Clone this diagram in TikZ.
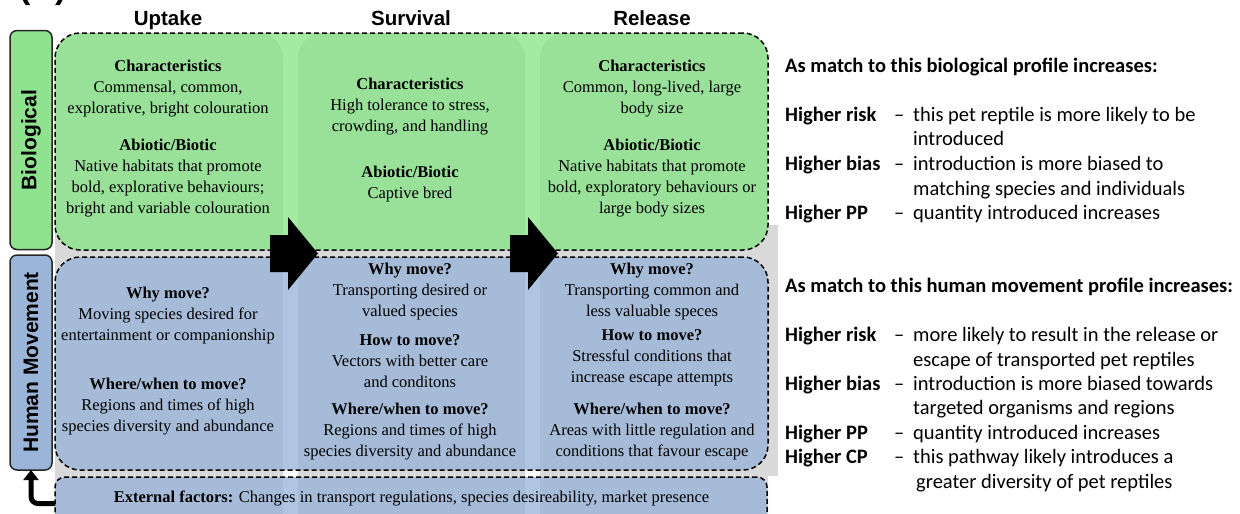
\documentclass[tikz,border=0pt]{standalone}
\usepackage{fontspec}
\setmainfont{Liberation Serif}
\setsansfont{Liberation Sans}
\newfontfamily\calib{Carlito}
\usetikzlibrary{arrows.meta}

\definecolor{colgrey}{RGB}{217,217,217}
\definecolor{biofill}{RGB}{132,227,132}
\definecolor{humfill}{RGB}{150,178,216}
\definecolor{biolabel}{RGB}{143,227,143}
\definecolor{humlabel}{RGB}{155,181,216}

\tikzset{
  panel/.style={draw=black, line width=1.5pt, dash pattern=on 5pt off 3pt,
    rounded corners=25pt, fill opacity=0.75, inner sep=0pt, outer sep=0pt},
  sidebox/.style={draw=black!85, line width=1.5pt, rounded corners=7pt,
    inner sep=0pt, outer sep=0pt, minimum width=42pt,
    font=\sffamily\bfseries\fontsize{21pt}{24pt}\selectfont},
  body/.style={font=\fontsize{16.5pt}{21pt}\selectfont, align=center, inner sep=0pt},
  head/.style={font=\sffamily\bfseries\fontsize{20.5pt}{24pt}\selectfont, anchor=base, inner sep=0pt},
  side/.style={font=\calib\fontsize{20.5pt}{24pt}\selectfont, anchor=base west, inner sep=0pt},
  sidebold/.style={side, font=\calib\bfseries\fontsize{20.5pt}{24pt}\selectfont},
  blockarrow/.style={fill=black},
}

\begin{document}
\begin{tikzpicture}[x=1pt,y=-1pt]
\useasboundingbox (0,0) rectangle (1240,514);

% panel label partly above the page edge
\node[font=\sffamily\bfseries\fontsize{34pt}{36pt}\selectfont, anchor=base west, inner sep=0pt] (panelA) at (19,-1.5) {(A)};

% column headers
\node[head] (hUp) at (168,25) {Uptake};
\node[head] (hSu) at (411,25) {Survival};
\node[head] (hRe) at (652,25) {Release};

% grey column backdrops
\fill[colgrey] (760,225) rectangle (778,476);
\fill[colgrey, rounded corners=25pt] (55,33) rectangle (283,540);
\fill[colgrey, rounded corners=25pt] (298,33) rectangle (525,540);
\fill[colgrey, rounded corners=25pt] (540,33) rectangle (768,540);

% rows
\node[panel, fill=biofill, minimum width=713pt, minimum height=217pt] (bio) at (411.5,141.5) {};
\node[panel, fill=humfill, minimum width=713pt, minimum height=213pt] (hum) at (411.5,363.5) {};
\node[panel, fill=humfill, rounded corners=10pt, minimum width=712pt, minimum height=53pt] (ext) at (411,503.5) {};

% side labels
\node[sidebox, fill=biolabel, minimum height=219pt] (biolab) at (31,140) {\rotatebox{90}{Biological}};
\node[sidebox, fill=humlabel, minimum height=215pt] (hm) at (31,362.5) {\rotatebox{90}{Human Movement}};

% stage arrows
\fill[blockarrow] (270,235) -- (288,235) -- (288,217) -- (318,253.5) -- (288,290) -- (288,272) -- (270,272) -- cycle;
\fill[blockarrow] (510,235) -- (528,235) -- (528,217) -- (558,253.5) -- (528,290) -- (528,272) -- (510,272) -- cycle;

% feedback from external factors
\draw[line width=5pt, rounded corners=7pt, -{Triangle[width=15pt,length=10pt]}]
  (ext.west) -- (ext.west -| hm.south) -- (hm.south);

% biological profile
\node[body] (b1a) at (168,88.5) {\textbf{Characteristics}\\Commensal, common,\\explorative, bright colouration};
\node[body] (b1b) at (168,178) {\textbf{Abiotic/Biotic}\\Native habitats that promote\\bold, explorative behaviours;\\bright and variable colouration};
\node[body] (b2a) at (410,107) {\textbf{Characteristics}\\High tolerance to stress,\\crowding, and handling};
\node[body] (b2b) at (410,184) {\textbf{Abiotic/Biotic}\\Captive bred};
\node[body] (b3a) at (652,88.5) {\textbf{Characteristics}\\Common, long-lived, large\\body size};
\node[body] (b3b) at (652,178) {\textbf{Abiotic/Biotic}\\Native habitats that promote\\bold, exploratory behaviours or\\large body sizes};

% human movement profile
\node[body] (h1a) at (168,315.5) {\textbf{Why move?}\\Moving species desired for\\entertainment or companionship};
\node[body] (h1b) at (168,407) {\textbf{Where/when to move?}\\Regions and times of high\\species diversity and abundance};
\node[body] (h2a) at (410,292) {\textbf{Why move?}\\Transporting desired or\\valued species};
\node[body] (h2b) at (410,361.5) {\textbf{How to move?}\\Vectors with better care\\and conditons};
\node[body] (h2c) at (410,431.5) {\textbf{Where/when to move?}\\Regions and times of high\\species diversity and abundance};
\node[body] (h3a) at (652,292) {\textbf{Why move?}\\Transporting common and\\less valuable speces};
\node[body] (h3b) at (652,358) {\textbf{How to move?}\\Stressful conditions that\\increase escape attempts};
\node[body] (h3c) at (652,431.5) {\textbf{Where/when to move?}\\Areas with little regulation and\\conditions that favour escape};

\node[body] (extlabel) at (411.5,498) {\textbf{External factors:} Changes in transport regulations, species desireability, market presence};

% right-hand notes: biological profile
\node[sidebold] (r1) at (785,72) {As match to this biological profile increases:};
\node[sidebold] (r2) at (785,121) {Higher risk};
\node[side] (r2d) at (894,121) {\textendash};
\node[side] (r2t) at (913,121) {this pet reptile is more likely to be};
\node[side] (r3t) at (913,145) {introduced};
\node[sidebold] (r4) at (785,170) {Higher bias};
\node[side] (r4d) at (894,170) {\textendash};
\node[side] (r4t) at (913,170) {introduction is more biased to};
\node[side] (r5t) at (913,195) {matching species and individuals};
\node[sidebold] (r6) at (785,219) {Higher PP};
\node[side] (r6d) at (894,219) {\textendash};
\node[side] (r6t) at (913,219) {quantity introduced increases};

% right-hand notes: human movement profile
\node[sidebold] (s1) at (785,292) {As match to this human movement profile increases:};
\node[sidebold] (s2) at (785,341) {Higher risk};
\node[side] (s2d) at (894,341) {\textendash};
\node[side] (s2t) at (913,341) {more likely to result in the release or};
\node[side] (s3t) at (913,366) {escape of transported pet reptiles};
\node[sidebold] (s4) at (785,390) {Higher bias};
\node[side] (s4d) at (894,390) {\textendash};
\node[side] (s4t) at (913,390) {introduction is more biased towards};
\node[side] (s5t) at (913,414) {targeted organisms and regions};
\node[sidebold] (s6) at (785,439) {Higher PP};
\node[side] (s6d) at (894,439) {\textendash};
\node[side] (s6t) at (913,439) {quantity introduced increases};
\node[sidebold] (s7) at (785,463) {Higher CP};
\node[side] (s7d) at (894,463) {\textendash};
\node[side] (s7t) at (913,463) {this pathway likely introduces a};
\node[side] (s8t) at (916,488) {greater diversity of pet reptiles};
\end{tikzpicture}
\end{document}
